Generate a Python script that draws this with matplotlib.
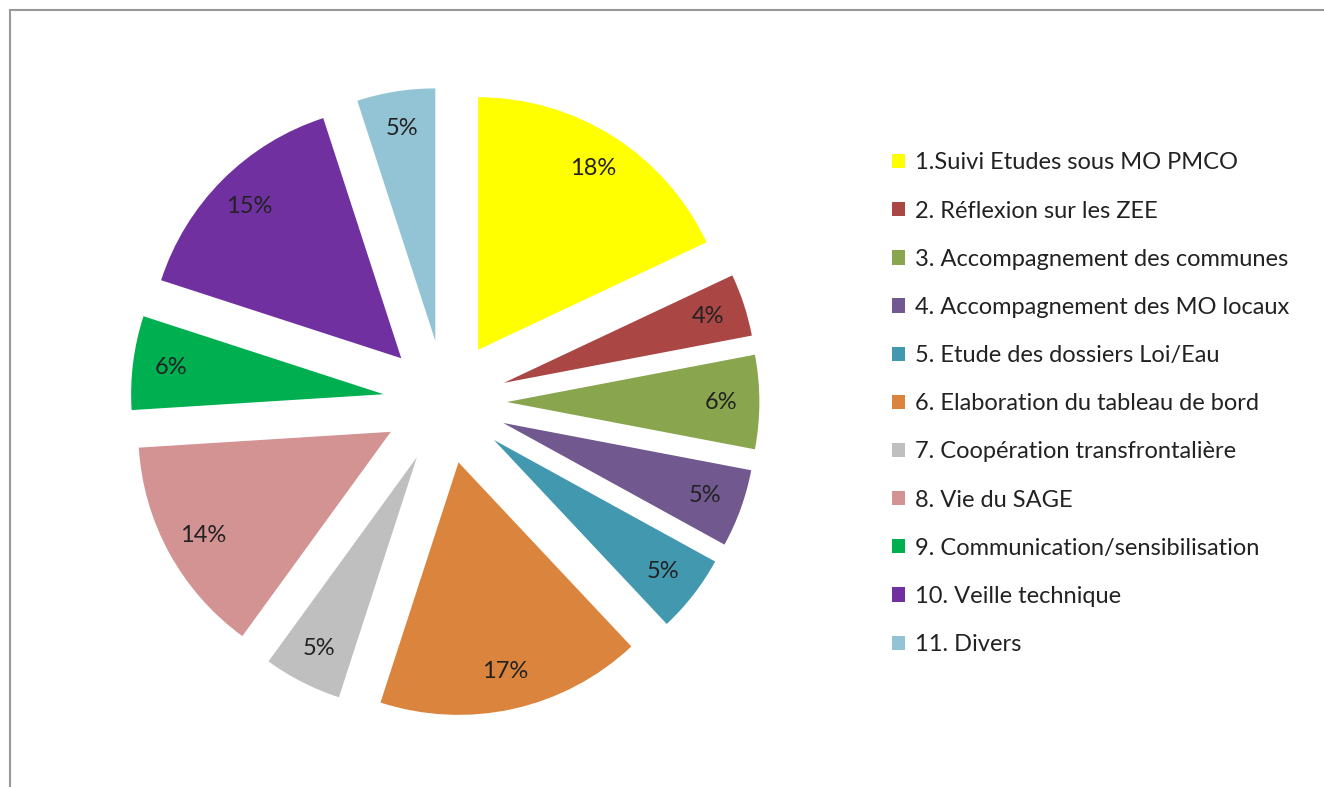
import matplotlib
matplotlib.use("Agg")
import matplotlib.pyplot as plt
from matplotlib.lines import Line2D

plt.rcParams['font.family'] = ['Lato', 'DejaVu Sans']

labels = ["1.Suivi Etudes sous MO PMCO", "2. Réflexion sur les ZEE",
          "3. Accompagnement des communes", "4. Accompagnement des MO locaux",
          "5. Etude des dossiers Loi/Eau", "6. Elaboration du tableau de bord",
          "7. Coopération transfrontalière", "8. Vie du SAGE",
          "9. Communication/sensibilisation", "10. Veille technique", "11. Divers"]
values = [18, 4, 6, 5, 5, 17, 5, 14, 6, 15, 5]
colors = ["#FFFF00", "#AA4643", "#89A54E", "#71588F", "#4198AF", "#DB843D",
          "#BFBFBF", "#D39393", "#00B050", "#7030A0", "#93C4D5"]

W, H = 1324, 787
fig = plt.figure(figsize=(W / 100, H / 100), dpi=100)

# pie axes: center (445, 402) px, radius ~252 px
R = 252.5
cx, cy = 445, 402
lim = 1.4
size = 2 * lim * R
ax = fig.add_axes([(cx - size / 2) / W, (H - cy - size / 2) / H, size / W, size / H])
wedges, texts, autotexts = ax.pie(values, colors=colors, startangle=90, counterclock=False,
                                  explode=[0.245] * len(values), autopct='%1.0f%%',
                                  pctdistance=0.85,
                                  textprops=dict(fontsize=17, color="#222222"))
ax.set_xlim(-lim, lim)
ax.set_ylim(-lim, lim)
ax.set_aspect('equal')
ax.axis('off')

leg = fig.legend(wedges, labels, loc='upper left',
                 bbox_to_anchor=(883 / W, 1 - 143 / H), frameon=False,
                 fontsize=17.0, handlelength=0.55, handleheight=0.55,
                 handletextpad=0.4, labelspacing=1.15, borderaxespad=0)
for t in leg.get_texts():
    t.set_color("#222222")

# frame lines (top and left)
fig.add_artist(Line2D([10 / W, 1], [1 - 10 / H, 1 - 10 / H], color="#999999", lw=1.5))
fig.add_artist(Line2D([10 / W, 10 / W], [0, 1 - 10 / H], color="#999999", lw=1.5))

fig.savefig("out.png", dpi=100)
